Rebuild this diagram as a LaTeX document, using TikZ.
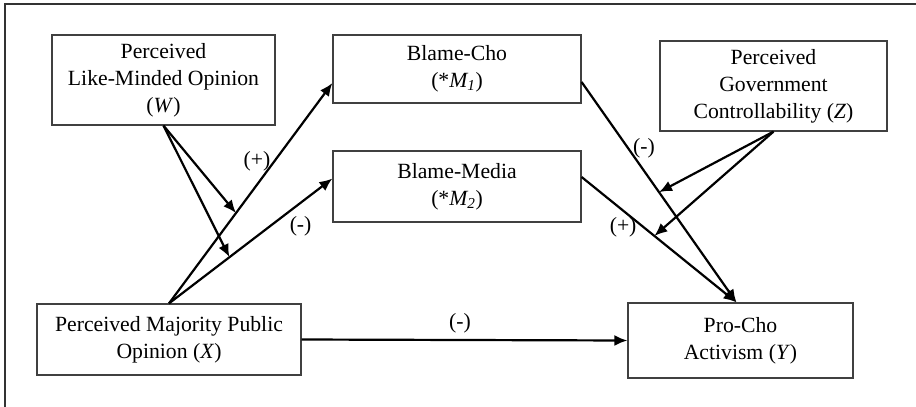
\documentclass[tikz,border=0pt]{standalone}
\usepackage{fontspec}
\setmainfont{Liberation Serif}
\usetikzlibrary{arrows.meta,positioning,calc}

\begin{document}
\begin{tikzpicture}[x=1pt,y=-1pt,
  box/.style={draw=black!75, line width=1.2pt, rectangle, align=center,
    inner sep=2pt, font=\fontsize{21.7}{27}\selectfont},
  arr/.style={-{Latex[length=13pt,width=11pt]}, line width=2.2pt},
  sgn/.style={font=\fontsize{21.7}{27}\selectfont, inner sep=2pt}]
\useasboundingbox (0,0) rectangle (916,407);
% frame, only top and left edges show
\draw[black!80, line width=1.2pt] (5,407) -- (5,4) -- (916,4);

\node[box, minimum width=223pt, minimum height=90pt] (w) at (163.5,80)
  {Perceived\\Like-Minded Opinion\\(\textit{W})};
\node[box, minimum width=248pt, minimum height=68pt] (m1) at (457,69)
  {Blame-Cho\\(*\textit{M\textsubscript{1}})};
\node[box, minimum width=248pt, minimum height=71pt] (m2) at (457,186.5)
  {Blame-Media\\(*\textit{M\textsubscript{2}})};
\node[box, minimum width=227pt, minimum height=90pt] (z) at (773.5,86)
  {Perceived\\Government\\Controllability (\textit{Z})};
\node[box, minimum width=264pt, minimum height=71pt] (x) at (169,339.5)
  {Perceived Majority Public\\Opinion (\textit{X})};
\node[box, minimum width=225pt, minimum height=75pt] (y) at (740.5,340.5)
  {Pro-Cho\\Activism (\textit{Y})};

% paths from X to the mediators
\draw[arr] (x.north) -- coordinate[pos=0.41] (wa)
  node[sgn, pos=0.645, left=1pt] {(+)} ([yshift=-14pt]m1.west);
\draw[arr] (x.north) -- coordinate[pos=0.37] (wb)
  node[sgn, pos=0.72, below right=0pt] {(-)} ([yshift=8pt]m2.west);
% moderation by W
\draw[arr] (w.south) -- (wa);
\draw[arr] (w.south) -- (wb);

% paths from the mediators to Y
\draw[arr] (m1.east |- 0,82) -- coordinate[pos=0.5] (za)
  node[sgn, pos=0.3, right=2pt] {(-)} ([xshift=-4pt]y.north);
\draw[arr] (m2.east |- 0,177) -- coordinate[pos=0.47] (zb)
  node[sgn, pos=0.4, left=4pt] {(+)} ([xshift=-4pt]y.north);
% moderation by Z
\draw[arr] (z.south) -- (za);
\draw[arr] (z.south) -- (zb);

% direct path
\draw[arr] (x.east) -- node[sgn, pos=0.486, above=4pt] {(-)} (y.west);
\end{tikzpicture}
\end{document}
